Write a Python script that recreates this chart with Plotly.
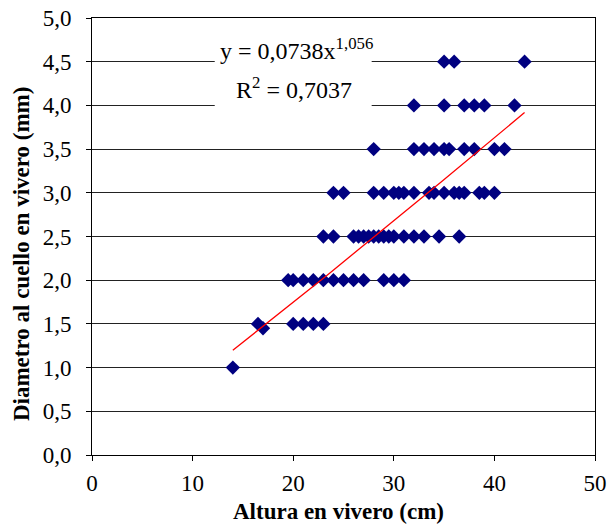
import numpy as np
import plotly.graph_objects as go

# Data (x = altura cm, y = diametro mm)
x_45 = [35, 36, 43]
x_40 = [32, 35, 37, 38, 39, 42]
x_35 = [28, 32, 33, 34, 35, 35.5, 37, 38, 40, 41]
x_30 = [24, 25, 28, 29, 30, 30.5, 31, 32, 33.5, 34, 35, 36, 36.5, 37, 38.5, 39, 40]
x_25 = [23, 24, 26, 26.5, 27, 27.5, 28, 28.5, 29, 29.5, 30, 31, 32, 33, 34.5, 36.5]
x_20 = [19.5, 20, 21, 22, 23, 24, 25, 26, 27, 29, 30, 31]
x_15 = [16.5, 17, 20, 21, 22, 23]
y_15 = [1.5, 1.45, 1.5, 1.5, 1.5, 1.5]
x_10 = [14]

xs = x_45 + x_40 + x_35 + x_30 + x_25 + x_20 + x_15 + x_10
ys = ([4.5] * len(x_45) + [4.0] * len(x_40) + [3.5] * len(x_35) + [3.0] * len(x_30)
      + [2.5] * len(x_25) + [2.0] * len(x_20) + y_15 + [1.0] * len(x_10))

# Power trendline coefficients printed on the chart
fit_a = 0.0738
fit_b = 1.056
fit_r2 = "0,7037"
fit_x = np.linspace(min(xs), max(xs), 60)
fit_y = fit_a * fit_x ** fit_b

y_ticks = [0, 0.5, 1, 1.5, 2, 2.5, 3, 3.5, 4, 4.5, 5]
x_ticks = [0, 10, 20, 30, 40, 50]

x_title = "Altura en vivero (cm)"
y_title = "Diametro al cuello en vivero (mm)"

serif = "Liberation Serif"

fig = go.Figure()
fig.add_trace(go.Scatter(x=xs, y=ys, mode="markers",
                         marker=dict(symbol="diamond", size=11, color="#000080",
                                     line=dict(width=0)),
                         showlegend=False))
fig.add_trace(go.Scatter(x=fit_x, y=fit_y, mode="lines",
                         line=dict(color="#ff0000", width=1.3), showlegend=False))

fig.add_shape(type="rect", x0=12.2, x1=27.8, y0=3.88, y1=4.9, xref="x", yref="y",
              fillcolor="white", line=dict(width=0), layer="between")
fig.add_annotation(x=20.3, y=4.64, xref="x", yref="y", showarrow=False,
                   text="y = 0,0738x<sup>1,056</sup>",
                   font=dict(family=serif, size=24, color="black"))
fig.add_annotation(x=20.1, y=4.2, xref="x", yref="y", showarrow=False,
                   text="R<sup>2</sup> = " + fit_r2,
                   font=dict(family=serif, size=24, color="black"))

fig.add_annotation(x=0.49, y=-0.130, xref="paper", yref="paper", showarrow=False,
                   text="<b>" + x_title + "</b>", xanchor="center", yanchor="middle",
                   font=dict(family=serif, size=23, color="black"))
fig.add_annotation(x=-0.139, y=0.46, xref="paper", yref="paper", showarrow=False,
                   text="<b>" + y_title + "</b>", textangle=-90,
                   xanchor="center", yanchor="middle",
                   font=dict(family=serif, size=23, color="black"))

fig.update_layout(
    width=609, height=527,
    margin=dict(l=92, r=14, t=18, b=72),
    paper_bgcolor="white", plot_bgcolor="white",
    separators=", ",
    font=dict(family=serif, size=23, color="black"),
    xaxis=dict(range=[0, 50], tickvals=x_ticks, showgrid=False, zeroline=False,
               automargin=False,
               showline=True, linecolor="black", linewidth=1, mirror=True,
               ticks="outside", ticklen=5, tickcolor="black",
               ticklabelstandoff=2,
               tickfont=dict(family=serif, size=23)),
    yaxis=dict(range=[0, 5], tickvals=y_ticks, tickformat=".1f",
               automargin=False,
               showgrid=True, gridcolor="#222222", gridwidth=1, zeroline=False,
               showline=True, linecolor="black", linewidth=1, mirror=True,
               ticks="outside", ticklen=5, tickcolor="black",
               ticklabelstandoff=10,
               tickfont=dict(family=serif, size=23)),
)

fig.write_html("out.html")
